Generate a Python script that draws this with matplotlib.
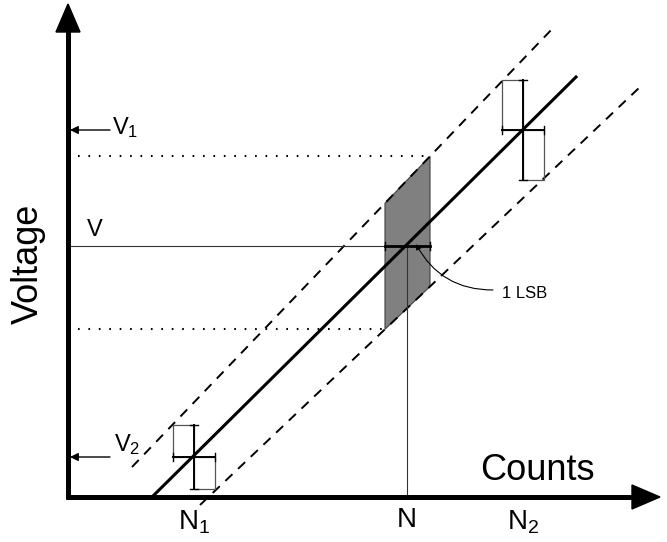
import numpy as np
import matplotlib
matplotlib.use("Agg")
import matplotlib.pyplot as plt
import matplotlib.patches as patches

plt.rcParams['font.family'] = ['Liberation Sans', 'DejaVu Sans']
plt.rcParams['mathtext.fontset'] = 'custom'
plt.rcParams['mathtext.rm'] = 'Liberation Sans'
plt.rcParams['mathtext.it'] = 'Liberation Sans'

# schematic quantities (counts on x, voltage on y)
origin = (68, 45)
x_end, y_end = 660, 538
N1, N, N2 = 194, 407, 523
V2, V, V1 = 85, 296, 412
dN = 21                      # horizontal error half width
dV1, dV2 = 50, 32            # vertical error half heights at N2 / N1

# transfer line and its +/- 1 LSB bounds (end points)
main_x, main_y = [152, 576], [45, 465]
upper_x, upper_y = [132, 554], [75, 515]
lower_x, lower_y = [200, 640], [37, 455]
band_x = [385, 430]          # 1 LSB wide window around N


def line_at(xs, ys, x):
    return np.interp(x, xs, ys, left=None, right=None) if xs[0] <= x <= xs[1] else \
        ys[0] + (x - xs[0]) * (ys[1] - ys[0]) / (xs[1] - xs[0])


fig = plt.figure(figsize=(6.67, 5.42), dpi=100, facecolor='white')
ax = fig.add_axes([0, 0, 1, 1])
ax.set_xlim(0, 667)
ax.set_ylim(0, 542)
ax.axis('off')

# axes with arrow heads
ax.plot([origin[0], origin[0]], [origin[1] - 2, y_end - 26], color='black', lw=3.6,
        solid_capstyle='butt', zorder=5)
ax.plot([origin[0] - 2, x_end - 26], [origin[1], origin[1]], color='black', lw=3.6,
        solid_capstyle='butt', zorder=5)
ax.add_patch(patches.Polygon([[origin[0] - 12, y_end - 28], [origin[0] + 12, y_end - 28],
                              [origin[0], y_end]], color='black', zorder=5))
ax.add_patch(patches.Polygon([[x_end - 28, origin[1] + 12], [x_end - 28, origin[1] - 12],
                              [x_end, origin[1]]], color='black', zorder=5))

# shaded window between the dashed bounds
top_l = line_at(upper_x, upper_y, band_x[0])
top_r = line_at(upper_x, upper_y, band_x[1])
bot_r = line_at(lower_x, lower_y, band_x[1])
bot_l = line_at(lower_x, lower_y, band_x[0])
ax.add_patch(patches.Polygon([[band_x[0], top_l], [band_x[1], top_r],
                              [band_x[1], bot_r], [band_x[0], bot_l]],
                             facecolor='#808080', edgecolor='#404040', lw=0.8, zorder=2))

# dotted levels from the window corners
ax.plot([origin[0] + 10, band_x[1]], [top_r, top_r], color='black', lw=1.5,
        linestyle=(0, (0.8, 4.2)), zorder=3)
ax.plot([origin[0] + 10, band_x[0]], [bot_l, bot_l], color='black', lw=1.5,
        linestyle=(0, (0.8, 4.2)), zorder=3)

# lines
ax.plot(main_x, main_y, color='black', lw=2.2, zorder=4)
ax.plot(upper_x, upper_y, color='black', lw=1.4, linestyle=(0, (5, 4)), zorder=3)
ax.plot(lower_x, lower_y, color='black', lw=1.4, linestyle=(0, (5, 4)), zorder=3)

# V and N guide lines
ax.plot([origin[0], band_x[0]], [V, V], color='#333333', lw=0.8, zorder=3)
ax.plot([N, N], [origin[1], V], color='#333333', lw=0.8, zorder=3)

# 1 LSB bar
ax.plot(band_x, [V, V], color='black', lw=2.0, zorder=5)
for bx in band_x:
    ax.plot([bx, bx], [V - 4, V + 4], color='black', lw=1.0, zorder=5)


def error_cross(n, v, dn, dv):
    ax.add_patch(patches.Rectangle((n - dn, v), dn, dv, fill=False,
                                   edgecolor='#555555', lw=0.9, zorder=3))
    ax.add_patch(patches.Rectangle((n, v - dv), dn, dv, fill=False,
                                   edgecolor='#555555', lw=0.9, zorder=3))
    ax.plot([n - dn, n + dn], [v, v], color='black', lw=1.4, zorder=4)
    ax.plot([n, n], [v - dv, v + dv], color='black', lw=1.4, zorder=4)
    for x in (n - dn, n + dn):
        ax.plot([x, x], [v - 4, v + 4], color='black', lw=1.0, zorder=4)
    for y in (v - dv, v + dv):
        ax.plot([n - 4, n + 4], [y, y], color='black', lw=1.0, zorder=4)


error_cross(N1, V2, dN, dV2)
error_cross(N2, V1, dN, dV1)

# level arrows
for lev in (V1, V2):
    ax.annotate('', xy=(origin[0] + 2, lev), xytext=(origin[0] + 42, lev),
                arrowprops=dict(arrowstyle='-|>', color='black', lw=1.0,
                                mutation_scale=12, shrinkA=0, shrinkB=0), zorder=6)

# 1 LSB callout
ax.annotate('', xy=(416, V + 2), xytext=(493, V - 44),
            arrowprops=dict(arrowstyle='-|>', color='black', lw=0.8,
                            mutation_scale=8, shrinkA=0, shrinkB=0,
                            connectionstyle='arc3,rad=-0.3'), zorder=6)
ax.text(502, V - 47, '1 LSB', fontsize=12, ha='left', va='center')

# labels
ax.text(112, V1 + 2, 'V$_1$', fontsize=17, ha='left', va='center')
ax.text(114, V2 + 12, 'V$_2$', fontsize=17, ha='left', va='center')
ax.text(87, V + 16, 'V', fontsize=17, ha='left', va='center')
ax.text(28, 278, 'Voltage', fontsize=26, rotation=90, ha='center', va='center')
ax.text(537, 71, 'Counts', fontsize=26, ha='center', va='center')
ax.text(N1, 20, 'N$_1$', fontsize=20, ha='center', va='center')
ax.text(N, 22, 'N', fontsize=20, ha='center', va='center')
ax.text(N2, 20, 'N$_2$', fontsize=20, ha='center', va='center')

fig.savefig('out.png', dpi=100, facecolor='white')
